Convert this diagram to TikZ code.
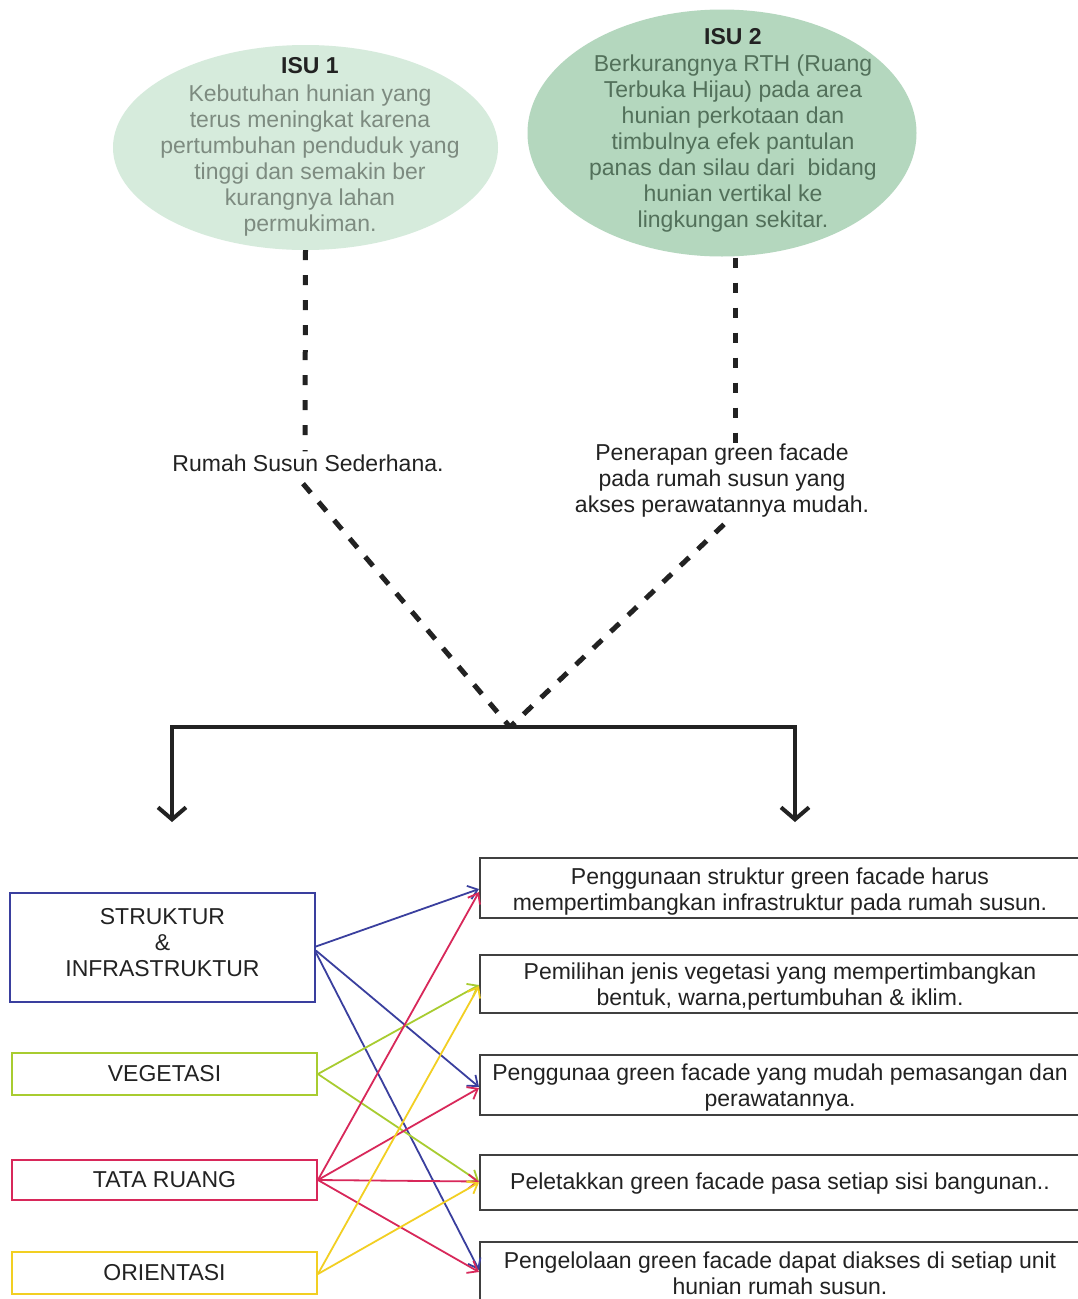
\documentclass[tikz,border=0pt]{standalone}
\usepackage{fontspec}
\setmainfont{Liberation Sans}
\usetikzlibrary{arrows.meta,shapes.geometric,calc}
\definecolor{ellA}{HTML}{D6EBDC}
\definecolor{ellB}{HTML}{B4D7BE}
\definecolor{txtA}{HTML}{7D8B80}
\definecolor{txtB}{HTML}{52705A}
\definecolor{cblue}{HTML}{3A3F9E}
\definecolor{cgreen}{HTML}{A8CC30}
\definecolor{cred}{HTML}{D8285A}
\definecolor{cyellow}{HTML}{F2CF22}
\definecolor{ink}{HTML}{222222}
\newcommand{\upstrut}[1]{\rule{0pt}{#1}}
\newcommand{\downstrut}[1]{\rule[-#1]{0pt}{#1}}
\tikzset{
  ellnode/.style={ellipse, inner sep=0pt},
  lbox/.style={draw, line width=1.8pt, minimum width=305pt, inner sep=0pt, align=center, text=ink},
  rbox/.style={draw=black!75, line width=2pt, minimum width=600pt, inner sep=0pt, align=center, text=ink},
  vdash/.style={line width=5pt, draw=ink, dash pattern=on 10pt off 15pt},
  ddash/.style={line width=5pt, draw=ink, dash pattern=on 12pt off 12pt},
  conn/.style={line width=1.8pt, -{Straight Barb[length=9pt,width=14pt]}},
  brk/.style={line width=4pt, draw=ink, -{Straight Barb[length=12pt,width=28pt]}},
  plain/.style={inner sep=0pt, align=center},
}
\begin{document}
\begin{tikzpicture}[x=1pt,y=-1pt,font=\fontsize{23}{26}\selectfont]
\fill[white] (0,0) rectangle (1077,1299);
\useasboundingbox (0,0) rectangle (1077,1299);

% ellipses
\node[ellnode, fill=ellA, minimum width=385pt, minimum height=205pt] (e1) at (305.5,147.5) {};
\node[ellnode, fill=ellB, minimum width=389pt, minimum height=247pt] (e2) at (722,133) {};
\node[plain, text=txtA] (t1) at (310,147) {\textcolor{ink}{\textbf{ISU 1}}\\[2pt]Kebutuhan hunian yang\\terus meningkat karena\\pertumbuhan penduduk yang\\tinggi dan semakin ber\\kurangnya lahan\\permukiman.};
\node[plain, text=txtB] (t2) at (733,130) {\textcolor{ink}{\textbf{ISU 2}}\\[1pt]Berkurangnya RTH (Ruang\\Terbuka Hijau) pada area\\hunian perkotaan dan\\timbulnya efek pantulan\\panas dan silau dari\ \ bidang\\hunian vertikal ke\\lingkungan sekitar.};

% middle labels
\node[plain, text=ink] (l1) at (308,463) {Rumah Susun Sederhana.};
\node[plain, text=ink] (l2) at (722,480.5) {Penerapan green facade\\pada rumah susun yang\\akses perawatannya mudah.};

% dashed connectors
\draw[vdash] (e1.south) -- ($(l1.north)+(-3,-3)$);
\draw[vdash] ($(e2.south)+(13,1)$) -- ($(l2.north)+(13,0)$);
\coordinate (j) at (510,727);
\draw[ddash] ($(l1.south)+(-5,12)$) -- (j);
\draw[ddash] ($(l2.south)+(2,7)$) -- (j);

% bracket
\coordinate (bl) at (172,822);
\coordinate (br) at (795,822);
\draw[brk] (j) -| (bl);
\draw[brk] (j) -| (br);

% left boxes
\node[lbox, draw=cblue, minimum height=109pt] (s) at (162.5,947.5) {STRUKTUR\\\&\\INFRASTRUKTUR\downstrut{10pt}};
\node[lbox, draw=cgreen, minimum height=42pt] (v) at (164.5,1074) {VEGETASI};
\node[lbox, draw=cred, minimum height=40pt] (tr) at (164.5,1180) {TATA RUANG};
\node[lbox, draw=cyellow, minimum height=42pt] (o) at (164.5,1273) {ORIENTASI};

% right boxes
\node[rbox, minimum height=60pt] (r1) at (780,888) {\upstrut{23pt}Penggunaan struktur green facade harus\\mempertimbangkan infrastruktur pada rumah susun.};
\node[rbox, minimum height=58pt] (r2) at (780,984) {\upstrut{21pt}Pemilihan jenis vegetasi yang mempertimbangkan\\bentuk, warna,pertumbuhan \& iklim.};
\node[rbox, minimum height=60pt] (r3) at (780,1085) {\upstrut{21pt}Penggunaa green facade yang mudah pemasangan dan\\perawatannya.};
\node[rbox, minimum height=55pt] (r4) at (780,1182.5) {\upstrut{19pt}Peletakkan green facade pasa setiap sisi bangunan..};
\node[rbox, minimum height=60pt] (r5) at (780,1272) {\upstrut{19pt}Pengelolaan green facade dapat diakses di setiap unit\\hunian rumah susun.};

% coloured connectors
\draw[conn, cblue] ($(s.east)+(0,-1)$) -- ($(r1.west)+(0,1)$);
\draw[conn, cblue] ($(s.east)+(0,3)$) -- ($(r3.west)+(0,2)$);
\draw[conn, cblue] ($(s.east)+(0,5)$) -- ($(r5.west)+(0,-2)$);
\draw[conn, cgreen] (v.east) -- ($(r2.west)+(0,1)$);
\draw[conn, cgreen] (v.east) -- ($(r4.west)+(0,-1)$);
\draw[conn, cred] (tr.east) -- ($(r1.west)+(0,4)$);
\draw[conn, cred] (tr.east) -- ($(r3.west)+(0,3)$);
\draw[conn, cred] (tr.east) -- ($(r4.west)+(0,-1)$);
\draw[conn, cred] (tr.east) -- ($(r5.west)+(0,0)$);
\draw[conn, cyellow] ($(o.east)+(0,1)$) -- ($(r2.west)+(0,2)$);
\draw[conn, cyellow] ($(o.east)+(0,1)$) -- ($(r4.west)+(0,0)$);
\end{tikzpicture}
\end{document}
